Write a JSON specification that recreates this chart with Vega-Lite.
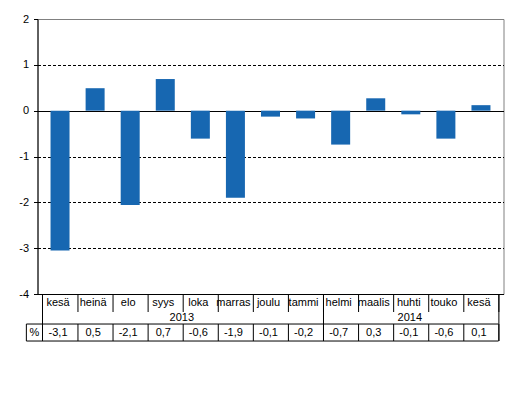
{
  "$schema": "https://vega.github.io/schema/vega-lite/v6.json",
  "width": 466,
  "height": 275,
  "autosize": {"type": "none"},
  "padding": {"left": 37.5, "top": 19, "right": 22.5, "bottom": 104},
  "background": "white",
  "config": {
    "view": {"stroke": "#808080", "strokeWidth": 1},
    "font": "Liberation Sans",
    "text": {"font": "Liberation Sans", "fontSize": 11, "color": "black"}
  },
  "datasets": {
    "bars": [
      {"order": 1, "month": "kesä", "year": "2013", "value": -3.05, "label": "-3,1"},
      {"order": 2, "month": "heinä", "year": "2013", "value": 0.49, "label": "0,5"},
      {"order": 3, "month": "elo", "year": "2013", "value": -2.06, "label": "-2,1"},
      {"order": 4, "month": "syys", "year": "2013", "value": 0.69, "label": "0,7"},
      {"order": 5, "month": "loka", "year": "2013", "value": -0.61, "label": "-0,6"},
      {"order": 6, "month": "marras", "year": "2013", "value": -1.9, "label": "-1,9"},
      {"order": 7, "month": "joulu", "year": "2013", "value": -0.13, "label": "-0,1"},
      {"order": 8, "month": "tammi", "year": "2013", "value": -0.17, "label": "-0,2"},
      {"order": 9, "month": "helmi", "year": "2014", "value": -0.74, "label": "-0,7"},
      {"order": 10, "month": "maalis", "year": "2014", "value": 0.27, "label": "0,3"},
      {"order": 11, "month": "huhti", "year": "2014", "value": -0.08, "label": "-0,1"},
      {"order": 12, "month": "touko", "year": "2014", "value": -0.61, "label": "-0,6"},
      {"order": 13, "month": "kesä", "year": "2014", "value": 0.12, "label": "0,1"}
    ]
  },
  "data": {"name": "bars"},
  "layer": [
    {
      "mark": {"type": "bar", "color": "#1767b1", "width": 19},
      "encoding": {
        "x": {
          "field": "order", "type": "quantitative", "title": null,
          "scale": {"domain": [0.5, 13.5], "nice": false, "zero": false},
          "axis": {"title": null, "labels": false, "ticks": false, "grid": false, "domain": true, "domainColor": "black", "domainWidth": 1}
        },
        "y": {
          "field": "value", "type": "quantitative", "title": null,
          "scale": {"domain": [-4, 2], "nice": false, "zero": false},
          "axis": {
            "title": null,
            "values": [-4, -3, -2, -1, 0, 1, 2],
            "labelExpr": "'' + datum.value",
            "domainColor": "black",
            "tickColor": "black",
            "tickSize": 4,
            "labelFontSize": 11,
            "labelFont": "Liberation Sans",
            "labelColor": "black",
            "labelPadding": 5,
            "grid": true,
            "gridColor": "black",
            "gridDash": {"condition": {"test": "datum.value === 0", "value": []}, "value": [3, 2]},
            "gridOpacity": {"condition": {"test": "datum.value === 2 || datum.value === -4", "value": 0}, "value": 1}
          }
        },
        "y2": {"datum": 0}
      }
    },
    {
      "mark": {"type": "rule", "color": "black", "xOffset": 17.92},
      "encoding": {
        "x": {"field": "order", "type": "quantitative", "title": null},
        "y": {"datum": -4},
        "y2": {"datum": -4.393}
      }
    },
    {
      "mark": {"type": "rule", "color": "black", "xOffset": 17.92},
      "encoding": {
        "x": {"field": "order", "type": "quantitative", "title": null},
        "y": {"datum": -4.655},
        "y2": {"datum": -5.026}
      }
    },
    {
      "transform": [{"aggregate": [{"op": "max", "field": "order", "as": "last"}], "groupby": ["year"]}],
      "mark": {"type": "rule", "color": "black", "xOffset": 17.92},
      "encoding": {
        "x": {"field": "last", "type": "quantitative", "title": null},
        "y": {"datum": -4},
        "y2": {"datum": -5.026}
      }
    },
    {
      "transform": [{"aggregate": [{"op": "mean", "field": "order", "as": "mid"}], "groupby": ["year"]}],
      "mark": {"type": "text", "baseline": "middle", "align": "center", "dx": -1},
      "encoding": {
        "x": {"field": "mid", "type": "quantitative", "title": null},
        "y": {"datum": -4.52},
        "text": {"field": "year"}
      }
    },
    {
      "mark": {"type": "text", "baseline": "middle", "align": "center", "dx": -2},
      "encoding": {
        "x": {"field": "order", "type": "quantitative", "title": null},
        "y": {"datum": -4.19},
        "text": {"field": "month"}
      }
    },
    {
      "mark": {"type": "text", "baseline": "middle", "align": "center", "dx": -2},
      "encoding": {
        "x": {"field": "order", "type": "quantitative", "title": null},
        "y": {"datum": -4.84},
        "text": {"field": "label"}
      }
    },
    {
      "data": {"values": [{"row": "%"}]},
      "layer": [
        {
          "mark": {"type": "rule", "color": "black"},
          "encoding": {"x": {"datum": 0.04}, "x2": {"datum": 13.5}, "y": {"datum": -4.655}}
        },
        {
          "mark": {"type": "rule", "color": "black"},
          "encoding": {"x": {"datum": 0.04}, "x2": {"datum": 13.5}, "y": {"datum": -5.026}}
        },
        {
          "mark": {"type": "rule", "color": "black"},
          "encoding": {"x": {"datum": 0.04}, "y": {"datum": -4.655}, "y2": {"datum": -5.026}}
        },
        {
          "mark": {"type": "rule", "color": "black"},
          "encoding": {"x": {"datum": 0.5}, "y": {"datum": -4}, "y2": {"datum": -5.026}}
        },
        {
          "mark": {"type": "text", "baseline": "middle", "align": "center"},
          "encoding": {"x": {"datum": 0.27}, "y": {"datum": -4.84}, "text": {"field": "row"}}
        }
      ]
    }
  ]
}
